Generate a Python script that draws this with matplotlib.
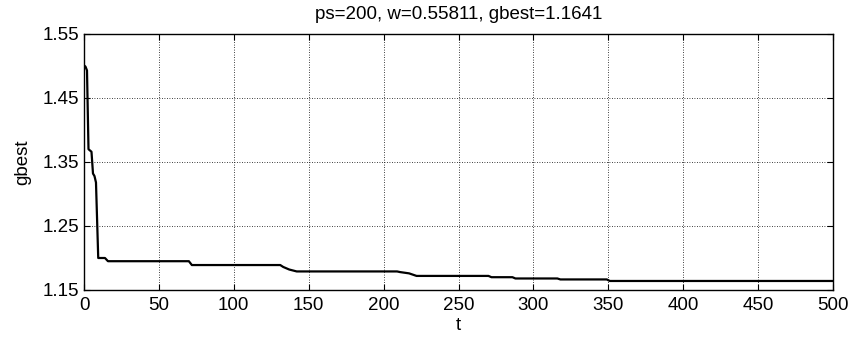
import matplotlib
matplotlib.use('Agg')
import matplotlib.pyplot as plt

plt.rcParams['font.family'] = ['Liberation Sans', 'DejaVu Sans']

# iteration / best fitness
t = [0, 1, 2, 3, 5, 6, 7, 8, 9.5, 14, 16, 70, 72, 131, 133, 137, 142,
     209, 211, 217, 222, 270, 272, 286, 288, 316, 318, 349, 351, 500]
gbest = [1.501, 1.499, 1.493, 1.370, 1.366, 1.332, 1.328, 1.318, 1.200, 1.200,
         1.195, 1.195, 1.189, 1.189, 1.186, 1.182, 1.179,
         1.179, 1.178, 1.176, 1.172, 1.172, 1.170, 1.170, 1.168, 1.168,
         1.1665, 1.1665, 1.1641, 1.1641]

x_ticks = list(range(0, 501, 50))
y_ticks = [1.15, 1.25, 1.35, 1.45, 1.55]

fig = plt.figure(figsize=(8.52, 3.41), dpi=100)
ax = fig.add_axes([84 / 852, 1 - 290 / 341, (833 - 84) / 852, (290 - 34) / 341])

ax.plot(t, gbest, color='black', linewidth=1.6)

ax.set_xlim(0, 500)
ax.set_ylim(1.15, 1.55)
ax.set_xticks(x_ticks)
ax.set_yticks(y_ticks)
ax.set_yticklabels(['%.2f' % v for v in y_ticks])
ax.grid(True, color='black', linestyle=(0, (1, 2)), linewidth=0.6)
ax.tick_params(direction='in', top=True, right=True, labelsize=13.5, length=4, pad=3.5)
ax.tick_params(axis='x', pad=5)
for s in ax.spines.values():
    s.set_linewidth(1.0)

ax.set_xlabel('t', fontsize=13.5, labelpad=2)
ax.set_ylabel('gbest', fontsize=13.5, labelpad=8)
ax.set_title('ps=200, w=0.55811, gbest=1.1641', fontsize=13.5, pad=11)

fig.savefig('out.png', dpi=100)
